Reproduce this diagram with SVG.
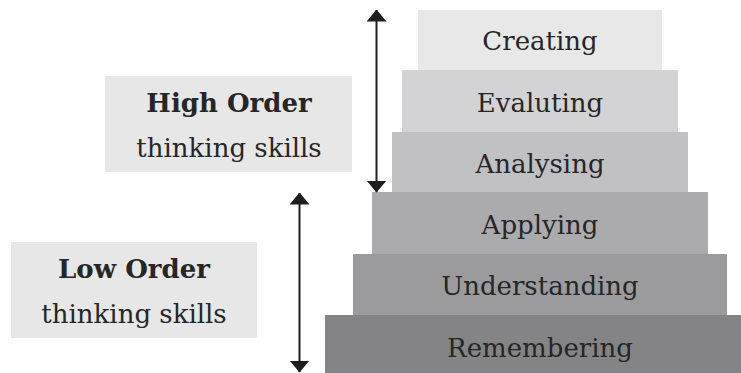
<svg xmlns="http://www.w3.org/2000/svg" width="741" height="373" viewBox="0 0 741 373">
<defs>
<style>
.t{font-family:"DejaVu Serif","Liberation Serif",serif;font-size:26px;fill:#262626;text-anchor:middle}
.b{font-weight:bold}
.ln{stroke:#1e1e1e;stroke-width:2;fill:none}
</style>
<marker id="ah" viewBox="0 0 12 20" refX="11.5" refY="10" markerWidth="12" markerHeight="20" markerUnits="userSpaceOnUse" orient="auto-start-reverse">
<path d="M0,0 L12,10 L0,20 Z" fill="#1e1e1e"/>
</marker>
</defs>
<rect width="741" height="373" fill="#ffffff"/>
<g id="remembering"><rect x="325" y="315" width="430" height="60" fill="#848487"/><text class="t" x="540" y="357">Remembering</text></g>
<g id="understanding"><rect x="353" y="254" width="374" height="61" fill="#9b9b9e"/><text class="t" x="540" y="295">Understanding</text></g>
<g id="applying"><rect x="372" y="192" width="336" height="62" fill="#ababae"/><text class="t" x="540" y="234">Applying</text></g>
<g id="analysing"><rect x="392" y="132" width="296" height="60" fill="#c1c1c4"/><text class="t" x="540" y="173">Analysing</text></g>
<g id="evaluting"><rect x="402" y="70" width="276" height="62" fill="#d3d3d5"/><text class="t" x="540" y="112">Evaluting</text></g>
<g id="creating"><rect x="418" y="10" width="244" height="60" fill="#e8e8e9"/><text class="t" x="540" y="50">Creating</text></g>
<g id="high-order"><rect x="105" y="76" width="247" height="96" fill="#e7e7e8"/><text class="t b" x="229" y="112" font-size="25">High Order</text><text class="t" x="229" y="157">thinking skills</text></g>
<g id="low-order"><rect x="11" y="242" width="246" height="96" fill="#e7e7e8"/><text class="t b" x="134" y="278" font-size="25">Low Order</text><text class="t" x="134" y="323">thinking skills</text></g>
<g id="connectors">
<line class="ln" x1="376.5" y1="10" x2="376.5" y2="192" marker-start="url(#ah)" marker-end="url(#ah)"/>
<line class="ln" x1="299.5" y1="193" x2="299.5" y2="372" marker-start="url(#ah)" marker-end="url(#ah)"/>
</g>
</svg>
